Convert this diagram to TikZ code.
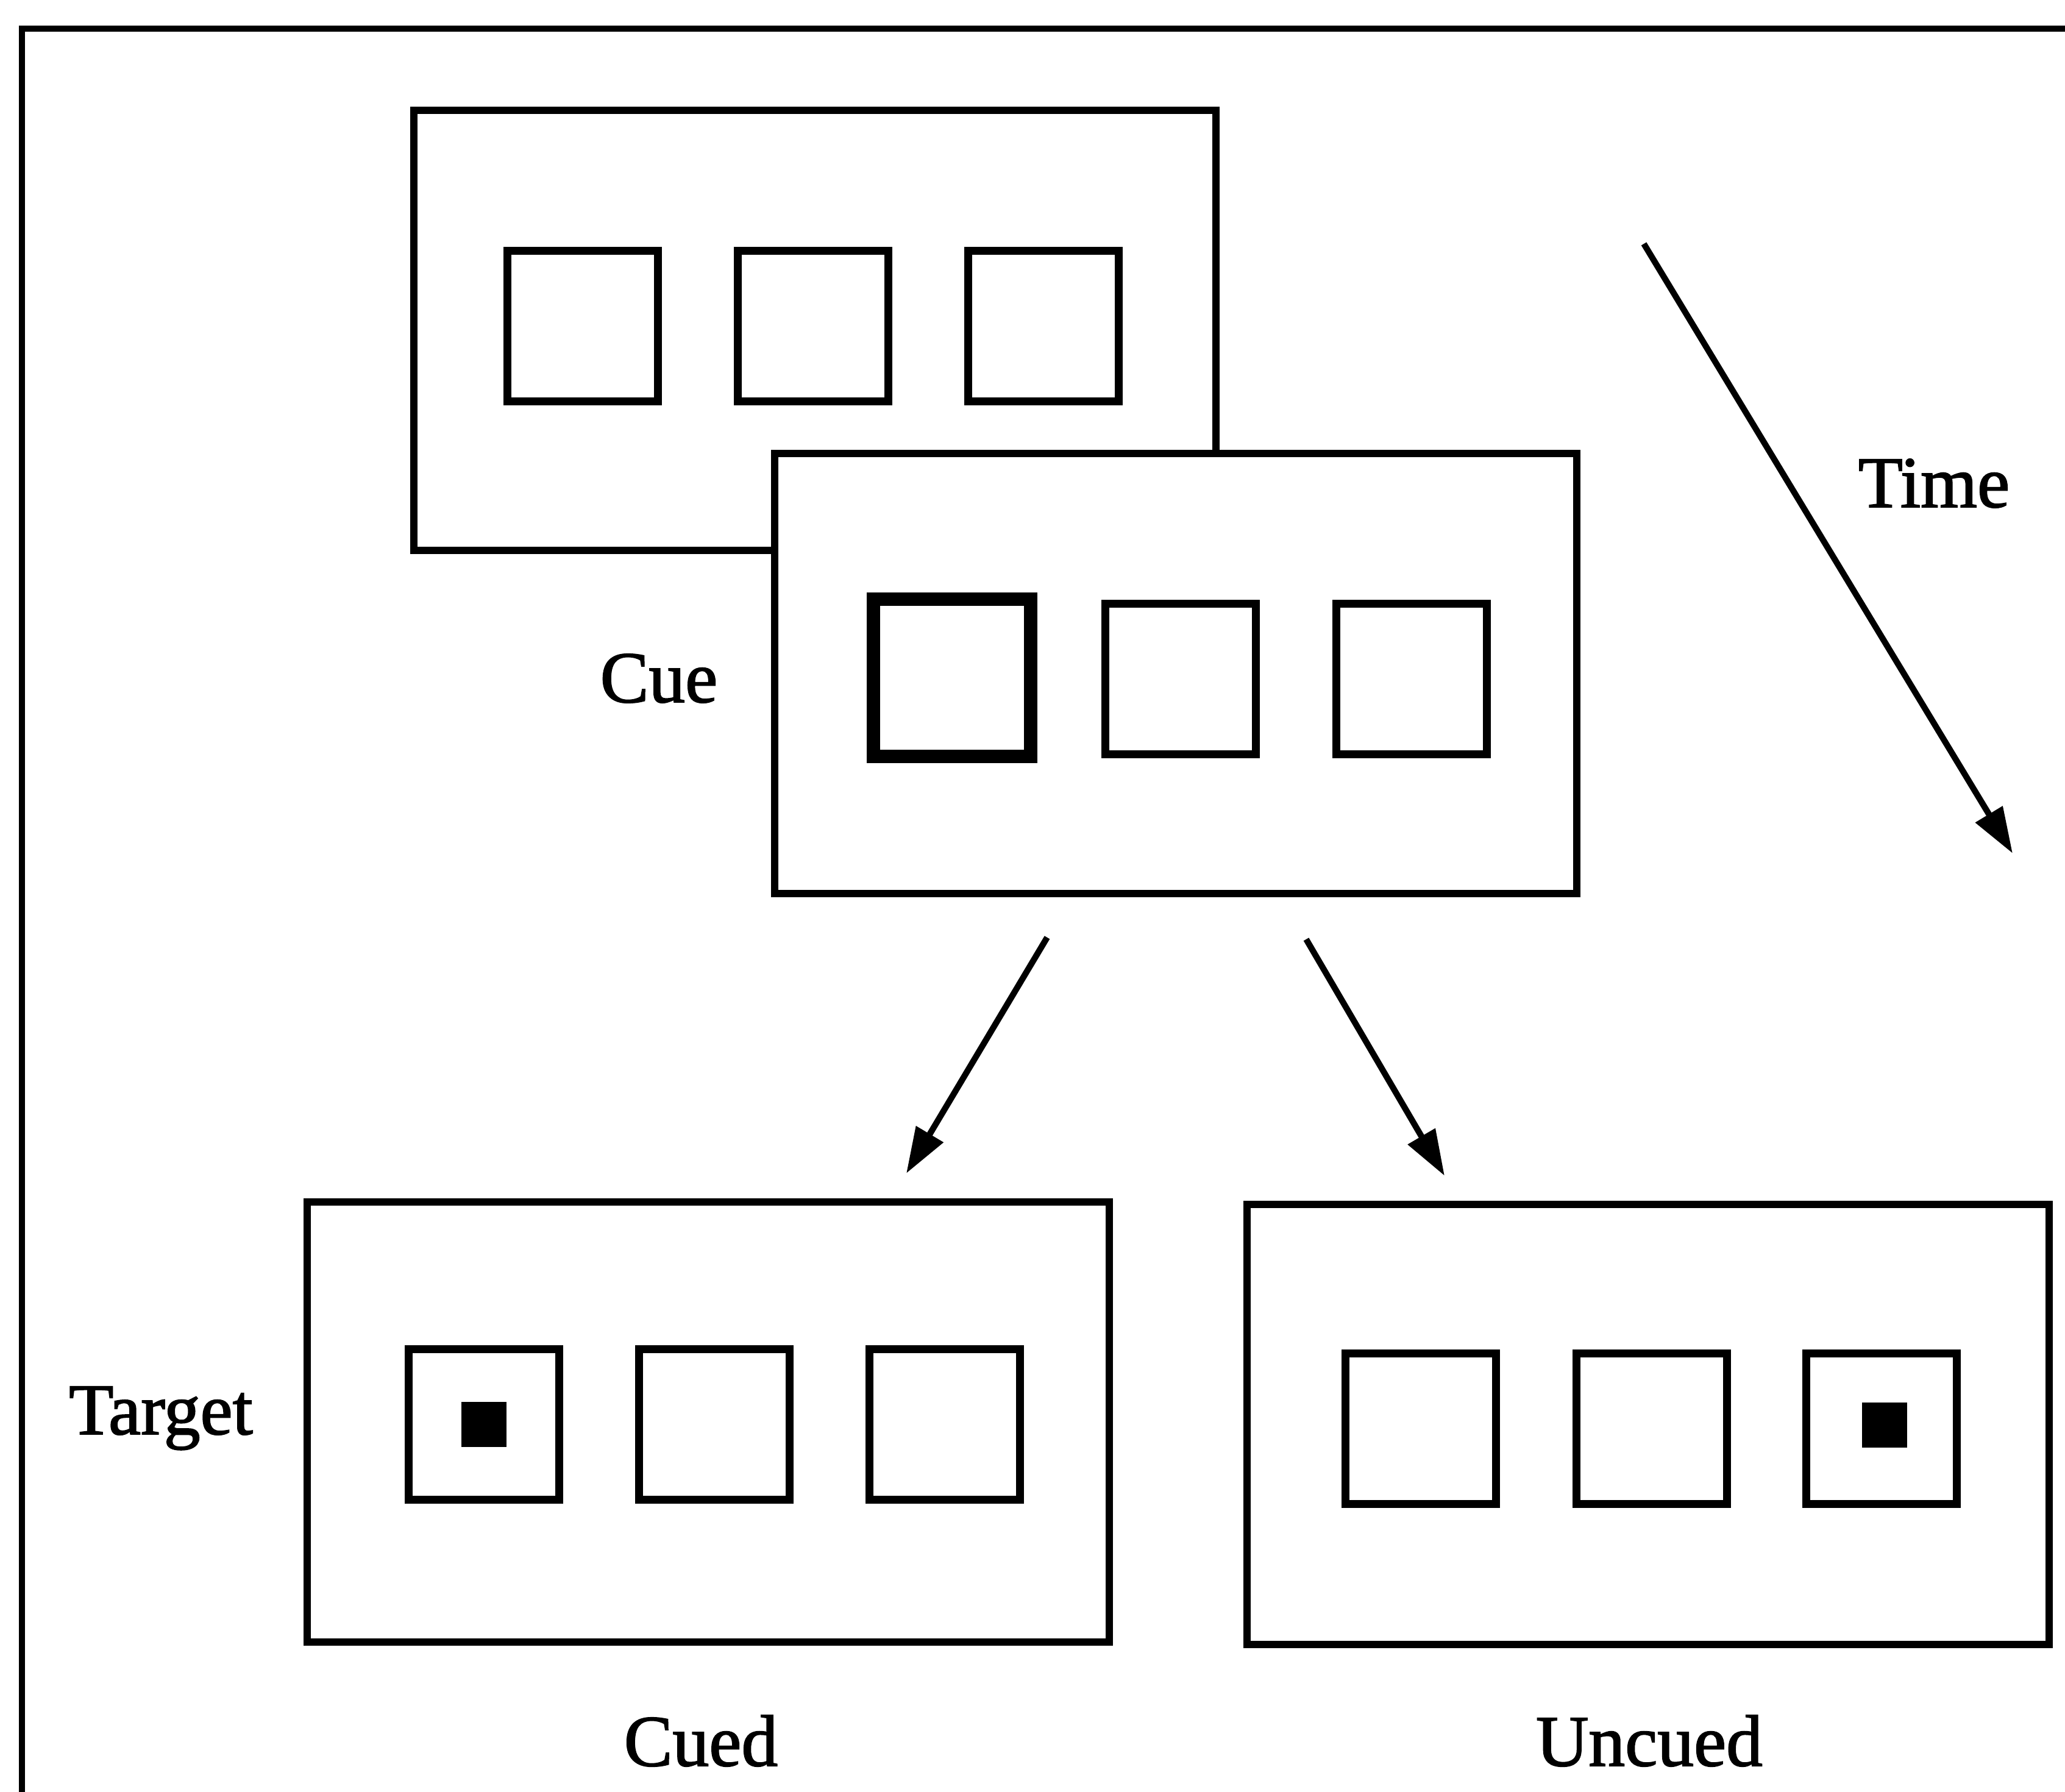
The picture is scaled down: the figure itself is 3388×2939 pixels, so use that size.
\documentclass[tikz,border=0pt]{standalone}
\usepackage{fontspec}
\setmainfont{Liberation Serif}
\newfontfamily\labelfont{Liberation Serif}[FakeBold=1.6]
\usetikzlibrary{arrows.meta}
\begin{document}
\begin{tikzpicture}[x=0.01cm, y=-0.01cm,
  panel/.style={draw=black, fill=white, line width=0.12cm, inner sep=0pt,
    minimum width=13.15cm, minimum height=7.22cm},
  slot/.style={draw=black, line width=0.13cm, inner sep=0pt, minimum size=2.47cm},
  cueslot/.style={draw=black, line width=0.22cm, inner sep=0pt, minimum size=2.58cm},
  dot/.style={fill=black, inner sep=0pt, minimum size=0.74cm},
  lbl/.style={anchor=base, inner sep=0pt, font=\labelfont\fontsize{34}{40}\selectfont},
  flow/.style={line width=0.1cm, -{Triangle[length=0.75cm, width=0.5cm]}}
]
\clip (0,0) rectangle (3388,2939);
\fill[white] (0,0) rectangle (3388,2939);

% surrounding frame (only top and left edges fall inside the page)
\draw[line width=0.1cm] (36,3100) -- (36,47) -- (3500,47);

% fixation display
\node[panel] (fix) at (1337,542) {};
\node[slot] (f1) at (956,535) {};
\node[slot] (f2) at (1334,535) {};
\node[slot] (f3) at (1712,535) {};

% cue display
\node[panel] (cue) at (1929,1105) {};
\node[cueslot] (c1) at (1562,1112) {};
\node[slot] (c2) at (1937,1114) {};
\node[slot] (c3) at (2316,1114) {};

% cued target display
\node[panel] (cued) at (1162,2333) {};
\node[slot] (d1) at (794,2337) {};
\node[slot] (d2) at (1172,2337) {};
\node[slot] (d3) at (1550,2337) {};
\node[dot] (dt) at (d1.center) {};

% uncued target display
\node[panel] (uncued) at (2704,2337) {};
\node[slot] (u1) at (2331,2344) {};
\node[slot] (u2) at (2710,2344) {};
\node[slot] (u3) at (3087,2344) {};
\node[dot] (ut) at (3092,2338) {};

% labels
\node[lbl] (ltime) at (3173,832) {Time};
\node[lbl] (lcue) at (1081,1152) {Cue};
\node[lbl] (ltarget) at (264,2353) {Target};
\node[lbl] (lcued) at (1150,2897) {Cued};
\node[lbl] (luncued) at (2706,2897) {Uncued};

% arrows
\coordinate (t0) at (2697,400);
\coordinate (t1) at (3302,1400);
\coordinate (a0) at (1718,1538);
\coordinate (a1) at (1487,1925);
\coordinate (b0) at (2143,1541);
\coordinate (b1) at (2370,1929);
\draw[flow] (t0) -- (t1);
\draw[flow] (a0) -- (a1);
\draw[flow] (b0) -- (b1);
\end{tikzpicture}
\end{document}
